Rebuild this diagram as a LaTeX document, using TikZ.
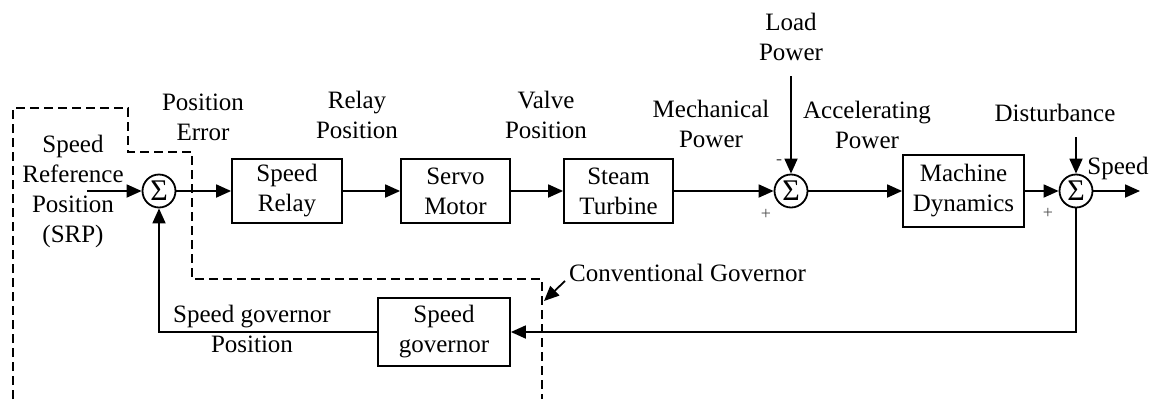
\documentclass[tikz,border=0pt]{standalone}
\usepackage{fontspec}
\setmainfont{Liberation Serif}
\usetikzlibrary{arrows.meta}
\begin{document}
\begin{tikzpicture}[x=1pt,y=-1pt,
 every node/.style={font=\fontsize{25}{30}\selectfont, inner sep=0pt, align=center},
 blk/.style={draw, line width=1.8pt, minimum height=64pt},
 sumnode/.style={draw, circle, line width=1.8pt, minimum size=33pt, inner sep=0pt, font=\fontsize{30}{30}\selectfont},
 sig/.style={line width=1.8pt, -{Triangle[length=15pt,width=13pt]}},
 dsh/.style={line width=1.6pt, dash pattern=on 9pt off 5pt},
 sgn/.style={font=\fontsize{18}{18}\selectfont, text=black!70}]
\useasboundingbox (0,0) rectangle (1158,399);
% blocks
\node[sumnode] (s1) at (159,191) {Σ};
\node[blk, minimum width=110pt] (sr) at (287,191) {Speed\\Relay};
\node[blk, minimum width=109pt] (sm) at (455.5,191) {Servo\\Motor};
\node[blk, minimum width=109pt] (st) at (618.5,191) {Steam\\Turbine};
\node[sumnode] (s2) at (791,191) {Σ};
\node[blk, minimum width=121pt, minimum height=72pt] (md) at (963.5,191) {Machine\\Dynamics};
\node[sumnode] (s3) at (1076,191) {Σ};
\node[blk, minimum width=132pt, minimum height=68pt] (gov) at (444,332) {Speed\\governor};
% free ends
\coordinate (in) at (87,191);
\coordinate (out) at (1140,191);
\coordinate (lp) at (791,76);
\coordinate (dist) at (1076,137);
\coordinate (cga) at (565,281);
\coordinate (cgb) at (544,301);
% connectors
\draw[sig] (in) -- (s1);
\draw[sig] (s1) -- (sr);
\draw[sig] (sr) -- (sm);
\draw[sig] (sm) -- (st);
\draw[sig] (st) -- (s2);
\draw[sig] (s2) -- (md);
\draw[sig] (md) -- (s3);
\draw[sig] (s3) -- (out);
\draw[sig] (lp) -- (s2);
\draw[sig] (dist) -- (s3);
\draw[sig] (s3.south) |- (gov.east);
\draw[sig] (gov.west) -| (s1.south);
\draw[sig] (cga) -- (cgb);
% dashed boundary
\draw[dsh] (13,399) -- (13,108) -- (128,108) -- (128,152) -- (192,152) -- (192,279) -- (542,279) -- (542,399);
% labels
\node (lsrp) at (73,191) {Speed\\Reference\\Position\\(SRP)};
\node (lpe) at (203,117) {Position\\Error};
\node (lrp) at (357,115) {Relay\\Position};
\node (lvp) at (546,115) {Valve\\Position};
\node (lmp) at (711,124) {Mechanical\\Power};
\node (lap) at (867,125) {Accelerating\\Power};
\node (llp) at (791,37) {Load\\Power};
\node (ldist) at (1055,113) {Disturbance};
\node (lspd) at (1118,168) {Speed};
\node (lsgp) at (252,329) {Speed governor\\Position};
\node[anchor=west] (lcg) at (569,273) {Conventional Governor};
\node[sgn] (m2) at (779,162) {-};
\node[sgn] (p2) at (766,214) {+};
\node[sgn] (p3) at (1048,213) {+};
\end{tikzpicture}
\end{document}
